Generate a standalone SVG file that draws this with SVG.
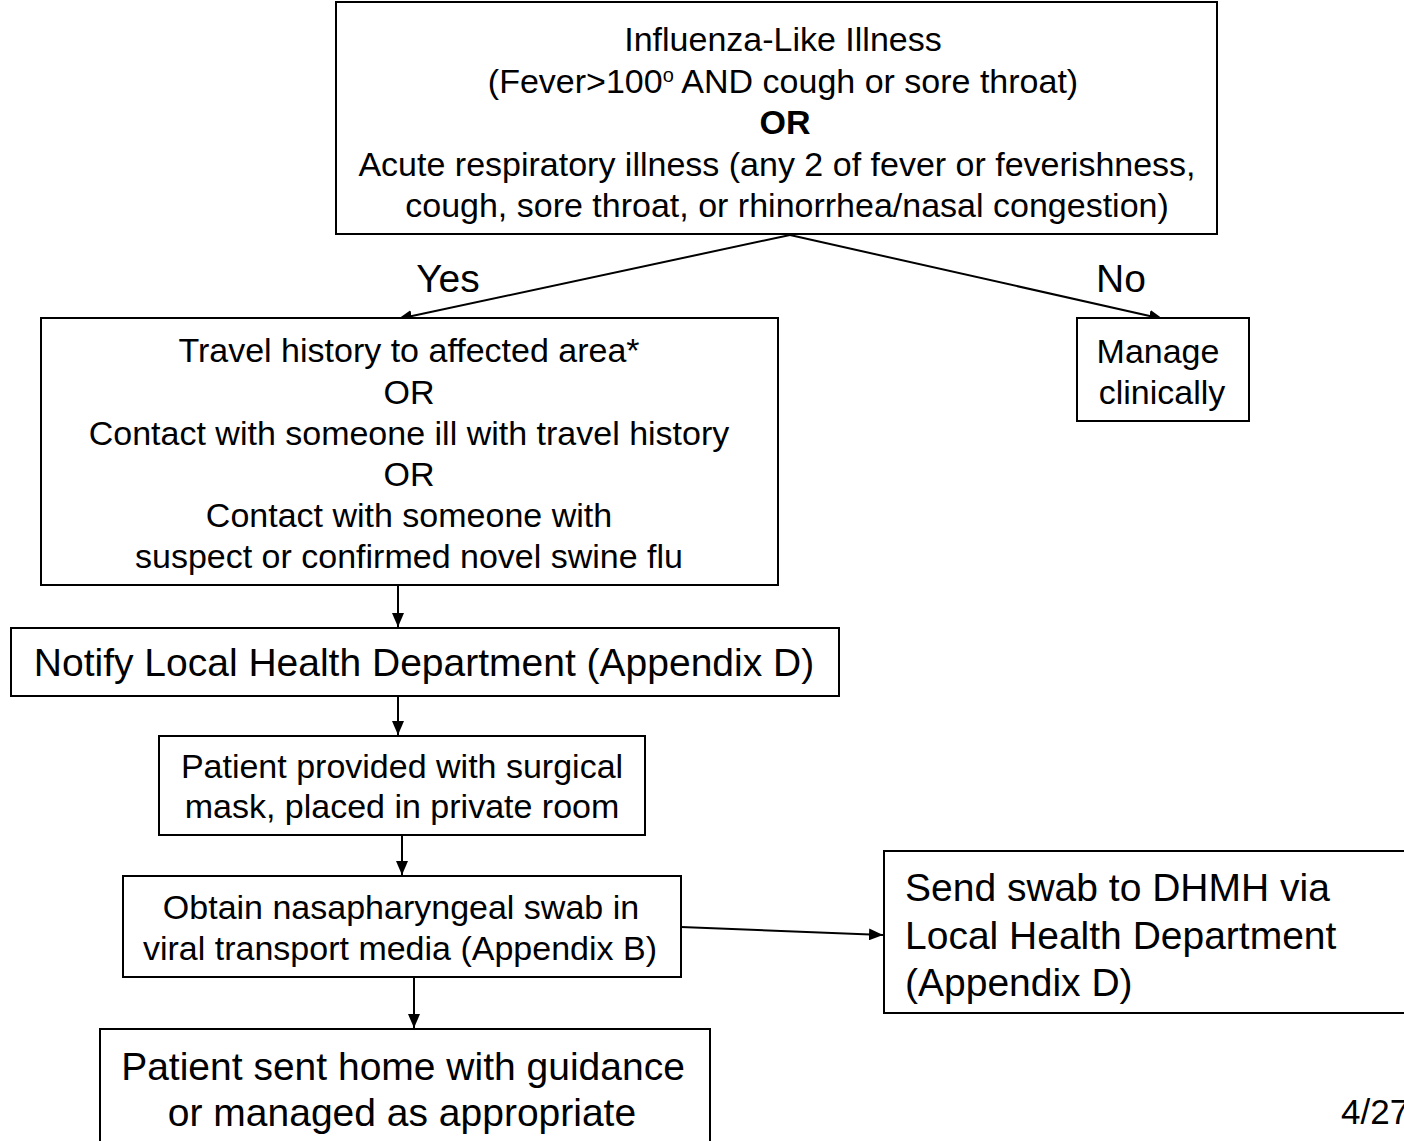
<svg xmlns="http://www.w3.org/2000/svg" width="1404" height="1141" viewBox="0 0 1404 1141">
<defs>
<marker id="ah" markerWidth="14" markerHeight="12" refX="14" refY="6" orient="auto" markerUnits="userSpaceOnUse">
<path d="M0,0 L14,6 L0,12 Z" fill="#000"/>
</marker>
<style>
.box{fill:#fff;stroke:#000;stroke-width:2}
.t{font-family:"Liberation Sans",Arial,sans-serif;fill:#000;text-anchor:middle}
.s{font-size:34px}
.l{font-size:39px}
.c{stroke:#000;stroke-width:2;fill:none;marker-end:url(#ah)}
</style>
</defs>
<rect width="1404" height="1141" fill="#fff"/>
<g id="connectors">
<line class="c" x1="790" y1="235" x2="398" y2="319"/>
<line class="c" x1="790" y1="235" x2="1163" y2="319"/>
<line class="c" x1="398" y1="585" x2="398" y2="627"/>
<line class="c" x1="398" y1="696" x2="398" y2="735"/>
<line class="c" x1="402" y1="835" x2="402" y2="875"/>
<line class="c" x1="681" y1="927" x2="883" y2="935"/>
<line class="c" x1="414" y1="977" x2="414" y2="1028"/>
</g>
<g id="labels">
<text class="t l" x="448" y="292">Yes</text>
<text class="t l" x="1121" y="292">No</text>
</g>
<g id="n-ili">
<rect class="box" x="336" y="2" width="881" height="232"/>
<text class="t s" x="783" y="51">Influenza-Like Illness</text>
<text class="t s" x="783" y="93">(Fever&gt;100<tspan dy="-11" style="font-size:20px">o</tspan><tspan dy="11"> AND cough or sore throat)</tspan></text>
<text class="t s" x="785" y="134" font-weight="bold">OR</text>
<text class="t s" x="777" y="176">Acute respiratory illness (any 2 of fever or feverishness,</text>
<text class="t s" x="787" y="217">cough, sore throat, or rhinorrhea/nasal congestion)</text>
</g>
<g id="n-travel">
<rect class="box" x="41" y="318" width="737" height="267"/>
<text class="t s" x="409" y="362">Travel history to affected area*</text>
<text class="t s" x="409" y="404">OR</text>
<text class="t s" x="409" y="445">Contact with someone ill with travel history</text>
<text class="t s" x="409" y="486">OR</text>
<text class="t s" x="409" y="527">Contact with someone with</text>
<text class="t s" x="409" y="568">suspect or confirmed novel swine flu</text>
</g>
<g id="n-manage">
<rect class="box" x="1077" y="318" width="172" height="103"/>
<text class="t s" x="1158" y="363">Manage</text>
<text class="t s" x="1162" y="404">clinically</text>
</g>
<g id="n-notify">
<rect class="box" x="11" y="628" width="828" height="68"/>
<text class="t l" x="424" y="676">Notify Local Health Department (Appendix D)</text>
</g>
<g id="n-mask">
<rect class="box" x="159" y="736" width="486" height="99"/>
<text class="t s" x="402" y="778">Patient provided with surgical</text>
<text class="t s" x="402" y="818">mask, placed in private room</text>
</g>
<g id="n-swab">
<rect class="box" x="123" y="876" width="558" height="101"/>
<text class="t s" x="401" y="919">Obtain nasapharyngeal swab in</text>
<text class="t s" x="400" y="960">viral transport media (Appendix B)</text>
</g>
<g id="n-send">
<rect class="box" x="884" y="851" width="530" height="162"/>
<text class="t l" x="905" y="901" style="text-anchor:start">Send swab to DHMH via</text>
<text class="t l" x="905" y="949" style="text-anchor:start">Local Health Department</text>
<text class="t l" x="905" y="996" style="text-anchor:start">(Appendix D)</text>
</g>
<g id="n-home">
<rect class="box" x="100" y="1029" width="610" height="120"/>
<text class="t l" x="403" y="1080">Patient sent home with guidance</text>
<text class="t l" x="402" y="1126">or managed as appropriate</text>
</g>
<text class="t s" x="1341" y="1124" style="text-anchor:start;font-size:35px">4/27</text>
</svg>
